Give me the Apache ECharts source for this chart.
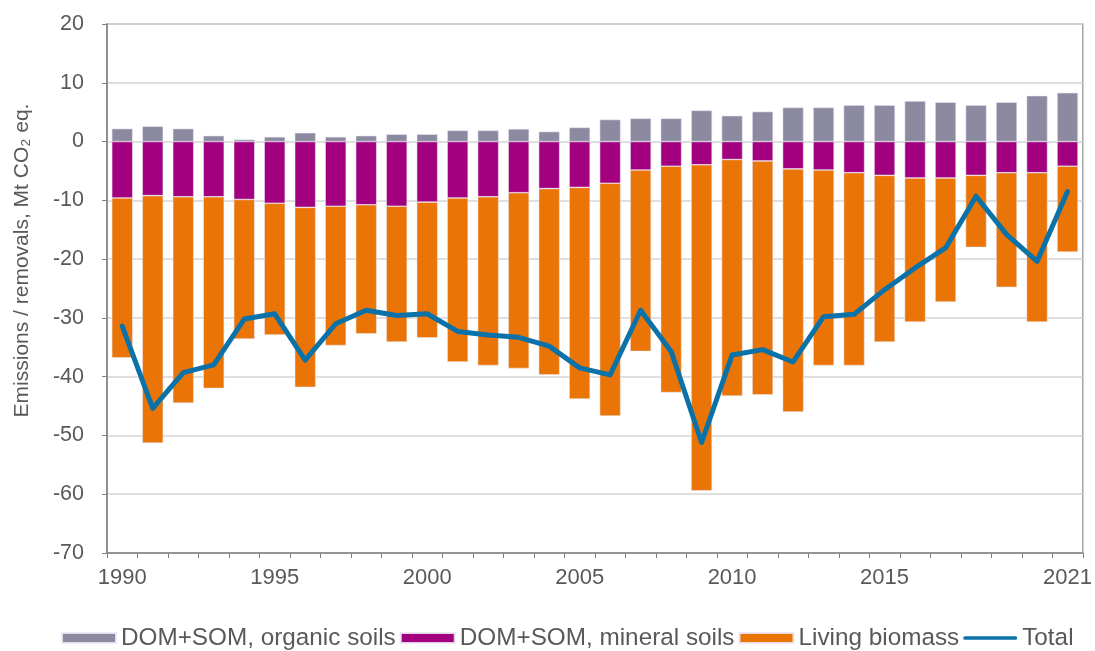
<!DOCTYPE html>
<html>
<head>
<meta charset="utf-8">
<style>
  html, body { margin: 0; padding: 0; background: #ffffff; }
  #chart { width: 1095px; height: 651px; }
</style>
<script src="https://cdn.jsdelivr.net/npm/echarts@6/dist/echarts.min.js"></script>
</head>
<body>
<div id="chart"></div>
<script>
// Years on the category axis
const years = ['1990','1991','1992','1993','1994','1995','1996','1997','1998','1999',
  '2000','2001','2002','2003','2004','2005','2006','2007','2008','2009',
  '2010','2011','2012','2013','2014','2015','2016','2017','2018','2019',
  '2020','2021'];

// Years that carry a tick label
const xTickLabels = ['1990','1995','2000','2005','2010','2015','2021'];

// Emissions (+) and removals (-), Mt CO2 eq.
const organicSoils = [2.2, 2.6, 2.2, 1.0, 0.35, 0.8, 1.5, 0.8, 1.0, 1.25,
  1.25, 1.9, 1.9, 2.15, 1.7, 2.4, 3.75, 3.95, 3.95, 5.3,
  4.4, 5.1, 5.8, 5.8, 6.2, 6.2, 6.9, 6.7, 6.2, 6.7,
  7.8, 8.3];

const mineralSoils = [-9.6, -9.2, -9.4, -9.4, -9.85, -10.5, -11.2, -11.0, -10.75, -11.0,
  -10.3, -9.6, -9.4, -8.7, -8.0, -7.8, -7.1, -4.85, -4.2, -3.95,
  -3.05, -3.3, -4.65, -4.85, -5.3, -5.75, -6.2, -6.2, -5.75, -5.3,
  -5.3, -4.2];

const livingBiomass = [-27.2, -42.1, -35.1, -32.6, -23.75, -22.4, -30.6, -23.7, -21.95, -23.1,
  -23.1, -27.9, -28.7, -29.9, -31.7, -36.0, -39.6, -30.85, -38.5, -55.45,
  -40.25, -39.8, -41.35, -33.25, -32.8, -28.35, -24.5, -21.1, -12.25, -19.5,
  -25.4, -14.6];

const total = [-31.4, -45.4, -39.3, -38.0, -30.2, -29.3, -37.2, -31.0, -28.7, -29.6,
  -29.3, -32.3, -32.9, -33.3, -34.8, -38.5, -39.7, -28.7, -35.7, -51.2,
  -36.3, -35.4, -37.5, -29.8, -29.4, -25.2, -21.5, -18.1, -9.3, -15.8,
  -20.4, -8.5];

const FONT = '"Liberation Sans", Arial, sans-serif';
const TEXT = '#595959';

const chart = echarts.init(document.getElementById('chart'), null, { renderer: 'canvas' });

const barBase = {
  type: 'bar',
  stack: 'lulucf',
  barWidth: 21,
  itemStyle: { borderColor: 'rgba(235,232,245,0.9)', borderWidth: 0.6 }
};

chart.setOption({
  animation: false,
  textStyle: { fontFamily: FONT },
  grid: {
    left: 107, right: 12, top: 24, bottom: 98,
    show: true, borderColor: '#a6a6a6', borderWidth: 1.5, backgroundColor: 'transparent'
  },
  legend: {
    top: 621,
    left: 56,
    itemWidth: 54,
    itemHeight: 10,
    itemGap: 4,
    textStyle: { fontFamily: FONT, fontSize: 24.3, color: TEXT, padding: [0, 0, 0, 0] },
    data: [
      { name: 'DOM+SOM, organic soils', icon: 'rect' },
      { name: 'DOM+SOM, mineral soils', icon: 'rect' },
      { name: 'Living biomass', icon: 'rect' },
      { name: 'Total', icon: 'path://M2,0 H56 A2,2 0 0 1 56,4 H2 A2,2 0 0 1 2,0 Z' }
    ]
  },
  xAxis: {
    type: 'category',
    data: years,
    boundaryGap: true,
    axisLine: { onZero: false, lineStyle: { color: '#808080', width: 1.5 } },
    axisTick: { show: true, interval: 0, length: 5, lineStyle: { color: '#808080', width: 1 } },
    axisLabel: {
      interval: (i, v) => xTickLabels.includes(v),
      fontFamily: FONT, fontSize: 22, color: TEXT, margin: 14
    },
    splitLine: { show: false }
  },
  yAxis: {
    type: 'value',
    min: -70, max: 20, interval: 10,
    name: 'Emissions / removals, Mt CO\u2082 eq.',
    nameLocation: 'middle',
    nameGap: 74,
    nameTextStyle: { fontFamily: FONT, fontSize: 21, color: TEXT, padding: [0, 0, 0, 56] },
    axisLine: { show: true, lineStyle: { color: '#808080', width: 1.5 } },
    axisTick: { show: true, length: 5, lineStyle: { color: '#808080', width: 1 } },
    axisLabel: { fontFamily: FONT, fontSize: 21.5, color: TEXT, margin: 23 },
    splitLine: { show: true, lineStyle: { color: '#d4d4d4', width: 1.5 } }
  },
  series: [
    Object.assign({}, barBase, {
      name: 'DOM+SOM, organic soils',
      data: organicSoils,
      itemStyle: Object.assign({}, barBase.itemStyle, { color: '#8b8aa0' })
    }),
    Object.assign({}, barBase, {
      name: 'DOM+SOM, mineral soils',
      data: mineralSoils,
      itemStyle: Object.assign({}, barBase.itemStyle, { color: '#a2007f' })
    }),
    Object.assign({}, barBase, {
      name: 'Living biomass',
      data: livingBiomass,
      itemStyle: Object.assign({}, barBase.itemStyle, { color: '#ea7405' })
    }),
    {
      name: 'Total',
      type: 'line',
      data: total,
      symbol: 'none',
      z: 5,
      itemStyle: { color: '#0b72a9' },
      lineStyle: { color: '#0b72a9', width: 5, join: 'round', cap: 'round' }
    }
  ]
});
</script>
</body>
</html>
